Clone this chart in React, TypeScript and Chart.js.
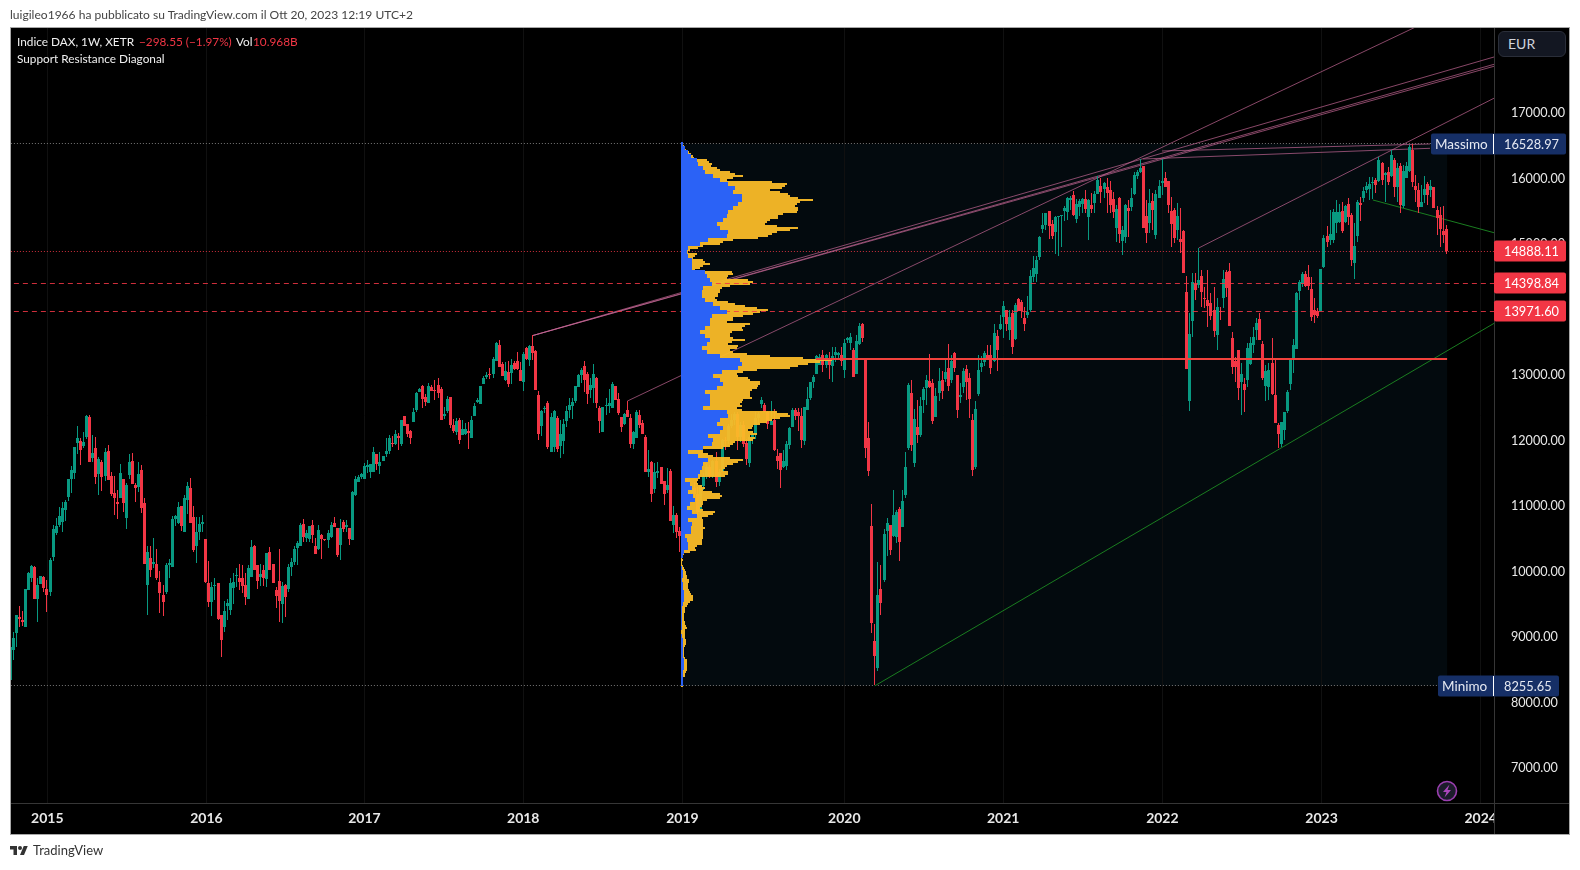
import React, { useEffect, useRef } from "react";
import { Chart, registerables } from "chart.js";

Chart.register(...registerables);

// Weekly candles, each row [open, high, low, close]
const bars2014 = [
[8344,8900,8340,8853],[8802,9082,8649,8980],[9066,9340,8853,9336],[9301,9474,9158,9275],[9260,9397,9168,9235],[9158,9730,9155,9728],[9718,9998,9715,9972],[9896,10100,9845,10084],[10074,10084,9580,9586],[9580,9896,9235,9794],[9810,9935,9805,9932],[9921,9925,9692,9748]];
const bars2015 = [
[9733,9871,9387,9642],[9687,10201,9626,10176],[10227,10705,10161,10649],[10593,10812,10558,10695],[10705,10990,10685,10848],[10761,11067,10608,10965],[10939,11092,10771,11061],[11143,11415,11082,11413],[11408,11611,11194,11550],[11509,11900,11413,11896],[11957,12222,11799,12033],[11993,12033,11626,11855],[11916,12135,11881,11977],[12049,12395,12018,12374],[12354,12390,11670,11677],[11728,12084,11677,11804],[11881,12059,11336,11448],[11489,11743,11168,11718],[11677,11703,11234,11448],[11463,11881,11387,11820],[11840,11932,11390,11397],[11463,11514,11153,11189],[11194,11458,10863,11123],[11061,11245,10802,11031],[11123,11642,11120,11499],[11413,11415,10914,11046],[10822,11346,10649,11321],[11474,11794,11413,11672],[11687,11804,11330,11336],[11316,11346,11061,11280],[11296,11667,11209,11489],[11550,11626,10893,10975],[11046,11128,10115,10120],[9794,10390,9336,10293],[10206,10390,9921,10023],[10115,10512,10049,10140],[10115,10344,9871,9901],[9840,10008,9372,9672],[9642,9794,9321,9540],[9687,10125,9652,10095],[10105,10191,9901,10130],[10074,10848,10070,10802],[10797,10863,10700,10848],[10736,11061,10730,10985],[11000,11005,10619,10700],[10603,11168,10600,11123],[11092,11362,10873,11306],[11275,11428,10735,10741],[10832,11000,10303,10328],[10395,10837,10135,10608],[10608,10827,10481,10725],[10731,10863,10608,10751]];
const bars2016 = [
[10497,10500,9820,9840],[9820,10161,9463,9535],[9535,9835,9321,9764],[9779,9901,9565,9794],[9825,9830,9260,9280],[9331,9335,8695,8955],[9153,9550,9082,9397],[9474,9575,9260,9520],[9413,9896,9336,9825],[9743,9983,9504,9840],[9932,10059,9759,9947],[9901,10115,9718,9845],[9901,10100,9667,9779],[9789,9972,9489,9611],[9580,10100,9575,10054],[9916,10481,9910,10374],[10395,10400,10020,10023],[10100,10105,9733,9855],[9916,10115,9779,9962],[10023,10100,9779,9901],[9881,10290,9769,10288],[10298,10369,10020,10023],[10115,10120,9820,9825],[9718,9769,9443,9626],[9855,10344,9235,9550],[9504,9845,9214,9779],[9794,9810,9306,9611],[9733,10115,9687,10069],[10069,10206,9932,10145],[10145,10390,10100,10344],[10359,10466,10100,10436],[10390,10736,10385,10710],[10726,10802,10446,10527],[10512,10634,10456,10588],[10497,10700,10456,10695],[10710,10787,10430,10552],[10390,10512,10270,10273],[10344,10710,10329,10634],[10558,10573,10191,10497],[10497,10500,10470,10476],[10481,10634,10364,10588],[10527,10761,10507,10710],[10741,10832,10675,10680],[10664,10670,10227,10252],[10405,10802,10176,10659],[10756,10787,10608,10654],[10680,10787,10608,10710],[10659,10665,10405,10497],[10486,11224,10480,11209],[11168,11458,11158,11407],[11367,11474,11360,11448],[11438,11499,11407,11484]];
const bars2017 = [
[11418,11652,11415,11616],[11601,11703,11499,11621],[11519,11645,11433,11642],[11524,11901,11520,11825],[11789,11795,11550,11642],[11616,11830,11494,11672],[11687,11765,11685,11764],[11794,12044,11743,11840],[11840,12084,11789,12039],[11957,12069,11901,11942],[11947,12156,11927,12100],[12064,12120,11860,12044],[11947,12315,11916,12313],[12369,12372,12220,12222],[12252,12255,12049,12100],[12145,12161,11952,12039],[12288,12491,12285,12435],[12466,12746,12435,12731],[12746,12802,12740,12781],[12837,12848,12496,12634],[12664,12710,12527,12588],[12578,12883,12575,12837],[12817,12843,12750,12756],[12776,12924,12619,12751],[12848,12955,12654,12731],[12781,12822,12315,12318],[12374,12507,12329,12405],[12451,12680,12415,12634],[12659,12660,12186,12237],[12232,12334,12110,12145],[12130,12339,12084,12293],[12313,12339,11947,12008],[12089,12313,12084,12176],[12100,12262,12084,12176],[12140,12288,11871,12120],[12039,12369,12035,12313],[12374,12568,12370,12527],[12593,12644,12568,12614],[12563,12835,12560,12832],[12863,12985,12858,12949],[12975,13051,12934,13000],[13016,13102,12934,12995],[13010,13270,12949,13239],[13219,13509,13215,13489],[13458,13535,13125,13128],[13163,13204,12985,12990],[12929,13204,12914,13061],[13051,13219,12822,12858],[13036,13240,12858,13153],[13189,13214,13077,13087],[13209,13346,13077,13087],[13077,13204,12904,12909]];
const bars2018 = [
[12893,13346,12756,13326],[13413,13433,13235,13239],[13229,13458,13143,13443],[13443,13606,13229,13336],[13372,13375,12770,12771],[12695,12756,12008,12100],[12222,12460,12074,12456],[12476,12527,12415,12502],[12573,12603,11871,11896],[11830,12415,11825,12359],[11906,12466,11830,12451],[12349,12374,11820,11871],[11916,12313,11738,12100],[11993,12329,11794,12257],[12298,12527,12212,12451],[12466,12644,12339,12537],[12527,12644,12323,12588],[12598,12835,12568,12832],[12817,13016,12815,13000],[13000,13102,12873,13077],[13138,13209,12746,12924],[13021,13051,12563,12715],[12766,12949,12644,12843],[12797,13168,12568,13016],[12960,12965,12491,12573],[12496,12527,12115,12298],[12130,12517,12125,12507],[12527,12644,12390,12547],[12527,12781,12415,12578],[12496,12888,12490,12863],[12832,12835,12615,12619],[12629,12731,12390,12425],[12359,12362,12135,12212],[12257,12415,12237,12405],[12466,12608,12355,12359],[12344,12400,11881,11947],[11947,12140,11865,12135],[12039,12466,12035,12430],[12390,12466,12186,12237],[12267,12313,12100,12105],[12054,12084,11520,11524],[11519,11855,11448,11565],[11677,11680,11066,11184],[11260,11652,11204,11514],[11509,11677,11423,11535],[11596,11600,11340,11341],[11377,11380,11016,11184],[11245,11575,11194,11321],[11535,11565,10775,10776],[10715,11000,10593,10858],[10863,10899,10517,10608],[10624,10685,10293,10542]];
const bars2019 = [
[10542,10800,10386,10767],[10767,10945,10720,10887],[10887,11220,10780,11205],[11205,11320,11100,11281],[11281,11370,11100,11181],[11181,11290,10865,10906],[10906,11320,10900,11299],[11299,11500,11240,11457],[11457,11640,11410,11601],[11601,11620,11420,11457],[11457,11700,11420,11685],[11685,11820,11290,11364],[11364,11560,11300,11526],[11526,12030,11520,12009],[12009,12050,11860,11999],[11999,12250,11950,12222],[12222,12400,12190,12315],[12315,12440,12230,12412],[12412,12430,11850,12059],[12059,12290,11980,12238],[12238,12300,11900,11947],[11956,12030,11630,11717],[11651,12080,11600,12058],[12058,12150,11950,12096],[12096,12440,12020,12339],[12339,12440,12250,12398],[12557,12659,12501,12618],[12542,12577,12435,12440],[12440,12445,12175,12252],[12236,12603,12230,12297],[12312,12481,11839,11855],[11763,11865,11565,11687],[11804,11810,11280,11549],[11595,11855,11585,11687],[11610,11997,11549,11941],[11931,12211,11870,12196],[12201,12491,12200,12465],[12465,12491,12313,12374],[12435,12491,12150,12374],[12374,12491,11890,12007],[11992,12515,11931,12511],[12465,12811,12460,12633],[12648,12890,12618,12888],[12893,13000,12801,12969],[13015,13305,13010,13290],[13152,13320,13150,13280],[13305,13381,13045,13152],[13152,13320,13100,13305],[13229,13356,12939,13152],[13137,13422,12893,13290],[13305,13432,13203,13351],[13300,13356,13229,13330],[13305,13432,13137,13218]];
const bars2020 = [
[13076,13549,12954,13488],[13534,13575,13483,13565],[13488,13641,13381,13580],[13381,13412,12970,12974],[13015,13610,13010,13519],[13473,13788,13458,13748],[13778,13794,13503,13565],[13229,13235,11733,11885],[12038,12282,11458,11534],[10694,11030,9061,9213],[8939,9198,8262,8710],[8526,10145,8481,9641],[9733,10099,9336,9519],[9870,10649,9839,10572],[10623,10816,10236,10740],[10705,10710,10252,10328],[10542,11244,10531,10862],[10531,10939,10440,10908],[10954,10984,10160,10450],[10679,11244,10675,11076],[11168,11824,11122,11595],[11885,12872,11855,12847],[12725,12923,11839,11931],[11656,12481,11595,12328],[12206,12618,11961,12084],[12084,12664,12053,12526],[12618,12822,12420,12786],[12801,13000,12542,12923],[12908,13320,12796,12822],[12878,12939,12252,12297],[12358,12801,12355,12679],[12730,13107,12603,12908],[12923,13061,12633,12755],[12933,13229,12898,13045],[13107,13473,12755,12832],[12923,13305,12872,13213],[13336,13351,13045,13107],[13000,13005,12343,12465],[12664,12878,12567,12694],[12816,13107,12725,13061],[13091,13152,12618,12893],[12954,13030,12343,12633],[12313,12404,11458,11549],[11595,12603,11565,12481],[12710,13305,12679,13076],[13122,13290,13045,13183],[13198,13366,13137,13336],[13305,13458,13225,13229],[13305,13458,13015,13112],[13213,13773,13203,13641],[13600,13687,13066,13381],[13702,13916,13687,13778]];
const bars2021 = [
[13885,14129,13559,14053],[13992,13995,13671,13778],[13687,13992,13534,13885],[13946,13992,13320,13427],[13549,14094,13534,14068],[14160,14180,13980,13982],[14114,14145,13865,13977],[13870,14043,13671,13778],[13916,14206,13875,13967],[13992,14603,13967,14511],[14501,14816,14425,14633],[14547,14816,14425,14760],[14801,15122,14755,15106],[15229,15468,15173,15290],[15290,15475,15213,15473],[15503,15505,15076,15274],[15305,15366,15076,15122],[15183,15427,14847,15412],[15412,15430,14816,15427],[15427,15445,14959,15442],[15503,15580,15351,15549],[15488,15722,15366,15702],[15671,15732,15519,15702],[15748,15809,15427,15442],[15381,15687,15315,15610],[15564,15687,15427,15656],[15610,15707,15468,15687],[15687,15824,15468,15534],[15412,15687,15061,15671],[15600,15773,15468,15534],[15625,15809,15468,15763],[15763,16038,15758,15977],[15885,16002,15620,15793],[15839,15951,15697,15931],[15870,16002,15468,15778],[15824,15961,15468,15600],[15687,15799,15391,15488],[15244,15595,15025,15534],[15702,15722,15010,15152],[15045,15274,14832,15213],[15106,15610,15010,15595],[15549,15671,15112,15498],[15564,15849,15503,15702],[15763,16104,15748,16053],[16038,16129,15987,16099],[16094,16292,16078,16160],[16190,16195,15240,15244],[15427,15671,15010,15167],[15320,15834,15162,15625],[15656,15773,15213,15519],[15137,15824,15071,15763],[15702,15977,15700,15885]];
const bars2022 = [
[15931,16292,15748,15961],[16007,16104,15865,15870],[15961,15965,15468,15595],[15503,15722,14959,15305],[15519,15544,15010,15091],[15213,15620,15061,15427],[15076,15544,14857,15030],[15198,15213,14555,14557],[14267,14511,13088,13091],[12603,13941,12450,13625],[13824,14552,13575,14414],[14389,14552,14145,14297],[14374,14933,14323,14450],[14511,14603,14043,14267],[14170,14348,14017,14155],[14140,14603,13738,14053],[14104,14246,13839,13900],[13992,14348,13585,13671],[13610,14170,13381,14038],[13977,14043,13839,13961],[14175,14603,14017,14465],[14572,14603,14195,14328],[14587,14704,13745,13748],[13564,13656,13015,13122],[13213,13279,12898,13117],[13381,13385,12618,12801],[12893,13178,12389,13020],[12862,12949,12440,12771],[12923,13483,12821,13412],[13168,13585,13152,13488],[13458,13738,13330,13580],[13687,13865,13534,13793],[13855,13941,13530,13534],[13473,13524,12923,12954],[12832,13152,12608,13061],[12816,13178,12618,13076],[13183,13559,12694,12710],[12694,13229,12262,12267],[12236,12262,11880,12099],[11946,12285,11905,12282],[12160,12440,12007,12435],[12450,12771,12414,12740],[12862,13232,12771,13229],[13244,13544,13025,13458],[13397,14272,13395,14246],[14282,14450,14145,14419],[14389,14577,14348,14542],[14542,14592,14348,14358],[14496,14679,14297,14358],[14313,14501,13829,13885],[13992,14170,13799,13916],[13977,14017,13865,13905]];
const bars2023 = [
[13977,14620,13975,14618],[14648,15137,14628,15091],[15122,15274,14959,15035],[15061,15519,14984,15152],[15061,15529,15010,15488],[15320,15671,15162,15488],[15335,15610,15315,15488],[15503,15646,15162,15198],[15335,15595,15315,15580],[15610,15707,15290,15412],[15442,15468,14669,14755],[14709,15315,14465,14969],[15122,15671,15030,15641],[15625,15722,15356,15595],[15702,15875,15646,15814],[15824,15951,15773,15885],[15839,16028,15671,15916],[15936,16028,15681,15951],[15977,16002,15773,15900],[15961,16333,15951,16282],[16241,16257,15900,15977],[16053,16104,15646,16078],[16099,16180,15900,15946],[16038,16435,16028,16358],[16282,16307,15722,15870],[15865,16231,15646,16160],[16190,16231,15468,15595],[15580,16206,15544,16114],[16012,16257,16002,16190],[16114,16511,16104,16480],[16440,16529,15875,15946],[15885,16053,15646,15824],[15824,15926,15478,15564],[15570,15900,15559,15641],[15748,16038,15620,15834],[15916,15951,15595,15748],[15824,15977,15722,15885],[15870,15875,15544,15549],[15519,15580,15137,15397],[15442,15570,14959,15223],[15198,15580,15010,15132],[15229,15290,14847,14888]];

const candles = [...bars2014, ...bars2015, ...bars2016, ...bars2017, ...bars2018, ...bars2019, ...bars2020, ...bars2021, ...bars2022, ...bars2023];

// Volume profile, rows from the top of the range to the bottom
const profileUpVolume = [7,12,22,29,47,52,67,72,97,117,142,162,157,182,182,172,157,142,137,127,107,117,142,137,82,57,22,19,22,32,32,32,72,77,87,92,67,62,62,72,97,117,137,92,87,87,72,57,72,87,77,62,77,117,177,182,172,122,97,117,127,107,72,87,87,87,67,137,142,117,107,127,117,82,97,92,67,22,52,82,67,62,57,52,12,27,32,22,37,42,27,17,32,47,22,32,29,29,12,17,22,22,9,5,0,1,3,5,5,4,5,7,9,9,9,7,3,3,3,3,3,3,0,3,5,5,5,5,5,9,9,9,7,5,5,5];
const profileTotalVolume = [
7,9,12,15,25,29,35,39,79,85,92,89,107,117,147,162,185,157,137,272,
317,312,302,267,297,322,327,352,397,357,347,342,352,350,347,307,292,292,267,257,
252,287,352,327,287,272,262,232,157,127,117,67,52,27,22,47,42,37,67,72,
87,67,57,42,152,157,142,137,202,215,207,147,122,117,117,112,112,102,107,142,
162,192,227,262,237,217,187,157,157,137,207,192,182,187,152,147,147,157,192,152,
142,172,167,147,157,197,267,367,452,417,382,352,327,227,187,167,172,202,207,237,
237,232,227,212,207,207,207,212,187,182,177,182,167,182,287,322,327,297,272,257,
237,217,212,
202,217,227,207,222,217,162,157,147,127,67,67,82,97,147,187,172,157,137,132,
127,142,142,132,57,52,47,52,62,72,67,92,117,122,117,77,67,67,62,57,
67,102,97,82,62,67,67,67,67,72,67,67,67,67,67,62,62,62,47,42,45,27,9,7,3,5,
4,3,7,9,11,15,15,17,19,24,23,21,20,21,23,27,31,35,36,35,27,22,17,11,11,11,10,9,9,9,
11,13,15,17,13,12,11,12,13,15,15,15,13,9,9,9,9,9,13,17,18,19,19,19,17,15,13,11,7,5,5,5,5];

const profileHigh = 16528.97;
const profileLow = 8255.65;
const profileStartWeek = 219.5;
const profileEndWeek = 470.3;
const pocPrice = 13244;

const yearLabels = ["2015", "2016", "2017", "2018", "2019", "2020", "2021", "2022", "2023", "2024"];
const yearWeeks = [12.1, 64.2, 115.9, 167.9, 220, 273, 325, 377.1, 429.2, 481.3];
const priceTicks = [7000, 8000, 9000, 10000, 11000, 12000, 13000, 14000, 15000, 16000, 17000];

const lastPrice = 14888.11;
const dashedLevels = [14398.84, 13971.6];

// [startWeek, startPrice, endWeek, endPrice]
const pinkTrendlines = [
  [171, 13602, 486, 17860],
  [171, 13602, 486, 17748],
  [171, 13602, 486, 17718],
  [202, 12603, 460, 18313],
  [389, 14939, 486, 17234],
  [377, 16420, 464.7, 16527],
  [370.8, 16298, 464.7, 16461],
];
const greenTrendlines = [
  [283, 8255, 486, 13798],
  [446, 15672, 486, 15168],
];

const GREEN = "#089981";
const RED = "#F23645";
const FONT = 'Lato, "Noto Sans", sans-serif';
const W_MIN = 0.23;
const W_MAX = 485.65;

const upRowStep = (profileHigh - profileLow) / 135.5;
const totalRowStep = (profileHigh - profileLow) / 271;

const seg = (t: number[], color: string, order: number) => ({
  type: "line",
  data: [{ x: t[0], y: t[1] }, { x: t[2], y: t[3] }],
  borderColor: color,
  borderWidth: 1,
  pointRadius: 0,
  order,
  xAxisID: "x",
  yAxisID: "y",
});

const level = (y: number, color: string, dash: number[], order: number) => ({
  type: "line",
  data: [{ x: W_MIN - 2, y }, { x: W_MAX + 2, y }],
  borderColor: color,
  borderWidth: 1,
  borderDash: dash,
  pointRadius: 0,
  order,
  snap: true,
  xAxisID: "x",
  yAxisID: "y",
});

const crispPlugin = {
  id: "crisp",
  afterDatasetsUpdate(chart: any) {
    chart.data.datasets.forEach((ds: any, i: number) => {
      const meta = chart.getDatasetMeta(i);
      if (ds.crisp === "v") {
        meta.data.forEach((el: any) => {
          el.x = Math.floor(el.x) + 0.5;
          const a = Math.round(el.y);
          let b = Math.round(el.base);
          if (a === b) b = a + 1;
          el.y = a;
          el.base = b;
        });
      } else if (ds.crisp === "h") {
        meta.data.forEach((el: any) => {
          el.y = Math.round(el.y);
          el.x = Math.round(el.x);
          el.base = Math.round(el.base);
        });
      } else if (ds.snap) {
        meta.data.forEach((el: any) => {
          el.y = Math.floor(el.y) + 0.5;
        });
      }
    });
  },
};

const backdropPlugin = {
  id: "backdrop",
  beforeDraw(chart: any) {
    const { ctx, scales } = chart;
    ctx.save();
    ctx.fillStyle = "#000";
    ctx.fillRect(10, 27, 1560, 808);
    const x0 = scales.x.getPixelForValue(profileStartWeek);
    const x1 = scales.x.getPixelForValue(profileEndWeek);
    const y0 = scales.y.getPixelForValue(profileHigh);
    const y1 = scales.y.getPixelForValue(profileLow);
    ctx.fillStyle = "#030a0e";
    ctx.fillRect(x0, y0, x1 - x0, y1 - y0);
    ctx.restore();
  },
};

function tag(ctx: any, y: number, x0: number, x1: number, color: string, text: string, textX: number, textColor: string) {
  ctx.fillStyle = color;
  ctx.beginPath();
  ctx.roundRect(x0, y - 10.5, x1 - x0, 21, 2);
  ctx.fill();
  ctx.fillStyle = textColor;
  ctx.textAlign = "left";
  ctx.textBaseline = "middle";
  ctx.fillText(text, textX, y + 1);
}

const overlayPlugin = {
  id: "overlay",
  afterDraw(chart: any) {
    const { ctx, scales } = chart;
    const yOf = (v: number) => Math.round(scales.y.getPixelForValue(v));
    ctx.save();
    ctx.fillStyle = "#000";
    ctx.fillRect(1495, 804, 74, 30);
    ctx.fillStyle = "#363636";
    ctx.fillRect(11, 803, 1558, 1);
    ctx.fillRect(1494, 28, 1, 806);
    ctx.strokeStyle = "#a8a8a8";
    ctx.lineWidth = 1;
    ctx.strokeRect(10.5, 27.5, 1559, 807);

    ctx.font = `12.8px ${FONT}`;
    const navy = "#162f66";
    tag(ctx, yOf(profileHigh), 1431, 1566, navy, "16528.97", 1504, "#e6e9f2");
    ctx.fillStyle = "#e6e9f2";
    ctx.font = `13.5px ${FONT}`;
    ctx.fillText("Massimo", 1435, yOf(profileHigh) + 1);
    ctx.fillStyle = "#ffffff";
    ctx.fillRect(1493, yOf(profileHigh) - 10, 1, 20);

    ctx.font = `12.8px ${FONT}`;
    tag(ctx, yOf(profileLow), 1438, 1559, navy, "8255.65", 1504, "#e6e9f2");
    ctx.fillStyle = "#e6e9f2";
    ctx.font = `13.5px ${FONT}`;
    ctx.fillText("Minimo", 1442, yOf(profileLow) + 1);
    ctx.fillStyle = "#ffffff";
    ctx.fillRect(1493, yOf(profileLow) - 10, 1, 20);

    ctx.font = `12.8px ${FONT}`;
    tag(ctx, yOf(lastPrice), 1494, 1566, RED, lastPrice.toFixed(2), 1504, "#ffffff");
    dashedLevels.forEach((v) => tag(ctx, yOf(v), 1494, 1566, RED, v.toFixed(2), 1504, "#ffffff"));

    ctx.beginPath();
    ctx.arc(1447, 791, 9.5, 0, Math.PI * 2);
    ctx.fillStyle = "#1c1c2b";
    ctx.fill();
    ctx.strokeStyle = "#9b3fb0";
    ctx.lineWidth = 1.6;
    ctx.stroke();
    ctx.fillStyle = "#ab47bc";
    ctx.beginPath();
    ctx.moveTo(1449.5, 784.5);
    ctx.lineTo(1443, 792);
    ctx.lineTo(1446.5, 792);
    ctx.lineTo(1444.5, 797.5);
    ctx.lineTo(1451, 790);
    ctx.lineTo(1447.5, 790);
    ctx.closePath();
    ctx.fill();
    ctx.restore();
  },
};

export default function App() {
  const ref = useRef<HTMLCanvasElement | null>(null);

  useEffect(() => {
    document.body.style.margin = "0";
    const wickData = candles.map((c, i) => ({ x: i, y: [c[2], c[1]] }));
    const bodyData = candles.map((c, i) => ({ x: i, y: [c[0], c[3]] }));
    const colors = candles.map((c) => (c[3] >= c[0] ? GREEN : RED));
    const pink = "rgba(200,104,152,0.68)";

    const barBase = { type: "bar", grouped: false, borderWidth: 0, inflateAmount: 0, borderSkipped: false };
    const chart = new Chart(ref.current as HTMLCanvasElement, {
      type: "bar",
      data: {
        datasets: [
          ...pinkTrendlines.map((t) => seg(t, pink, 6)),
          ...greenTrendlines.map((t) => seg(t, "#1a7d20", 6)),
          level(profileHigh, "#777777", [1, 2], 7),
          level(profileLow, "#777777", [1, 2], 7),
          level(lastPrice, "rgba(242,54,69,0.85)", [1, 2], 7),
          ...dashedLevels.map((v) => level(v, "rgba(242,54,69,0.85)", [5, 4], 2)),
          {
            ...barBase,
            label: "wick",
            data: wickData,
            backgroundColor: colors,
            barThickness: 1,
            crisp: "v",
            order: 5,
            xAxisID: "x",
            yAxisID: "y",
          },
          {
            ...barBase,
            label: "body",
            data: bodyData,
            backgroundColor: colors,
            barThickness: 3,
            crisp: "v",
            order: 4,
            xAxisID: "x",
            yAxisID: "y",
          },
          {
            ...barBase,
            label: "profile total",
            indexAxis: "y",
            data: profileTotalVolume.map((v, r) => ({ y: profileHigh - totalRowStep * r, x: [0, Math.max(v, 1)] })),
            backgroundColor: "rgba(250,188,40,0.95)",
            barThickness: 2,
            crisp: "h",
            order: 3,
            xAxisID: "xVol",
            yAxisID: "y",
          },
          {
            ...barBase,
            label: "profile up",
            indexAxis: "y",
            data: profileUpVolume.map((v, r) => ({ y: profileHigh - upRowStep * r, x: [0, v] })),
            backgroundColor: "#2b62f6",
            barThickness: 4,
            crisp: "h",
            order: 1,
            xAxisID: "xVol",
            yAxisID: "y",
          },
          {
            type: "line",
            label: "poc",
            data: [{ x: 263.7, y: pocPrice }, { x: profileEndWeek, y: pocPrice }],
            borderColor: "#f2423c",
            borderWidth: 2,
            pointRadius: 0,
            order: 0,
            xAxisID: "x",
            yAxisID: "y",
          },
        ],
      } as any,
      options: {
        animation: false,
        responsive: false,
        devicePixelRatio: 1,
        layout: { padding: { left: 11, top: 28, right: 11, bottom: 36 } },
        plugins: { legend: { display: false }, tooltip: { enabled: false } },
        events: [],
        scales: {
          x: {
            type: "linear",
            position: "bottom",
            min: W_MIN,
            max: W_MAX,
            offset: false,
            grid: { offset: false, color: "#101010", drawTicks: false, lineWidth: 1 },
            border: { display: false },
            afterBuildTicks: (s: any) => {
              s.ticks = yearWeeks.map((value) => ({ value }));
            },
            afterFit: (s: any) => {
              s.height = 31;
            },
            ticks: {
              autoSkip: false,
              maxRotation: 0,
              padding: 7,
              color: "#e8e8e8",
              font: { family: FONT, size: 14, weight: "bold" },
              callback: (v: any) => {
                const idx = yearWeeks.indexOf(v);
                return idx >= 0 ? yearLabels[idx] : "";
              },
            },
          },
          xVol: {
            type: "linear",
            display: false,
            position: "bottom",
            offset: false,
            grid: { offset: false },
            min: -2010,
            max: 2439,
          },
          y: {
            type: "linear",
            position: "right",
            min: 6465.6,
            max: 18297.7,
            offset: false,
            grid: { display: false, offset: false },
            border: { display: false },
            afterBuildTicks: (s: any) => {
              s.ticks = priceTicks.map((value) => ({ value }));
            },
            afterFit: (s: any) => {
              s.width = 75;
            },
            ticks: {
              autoSkip: false,
              padding: 9,
              color: "#e8e8e8",
              font: { family: FONT, size: 12.6 },
              callback: (v: any) => Number(v).toFixed(2),
            },
          },
        },
      } as any,
      plugins: [crispPlugin, backdropPlugin, overlayPlugin],
    } as any);
    return () => chart.destroy();
  }, []);

  const text: React.CSSProperties = { position: "absolute", whiteSpace: "nowrap", fontFamily: FONT, fontSize: 11.8, lineHeight: "16px" };
  return (
    <div style={{ position: "absolute", left: 0, top: 0, width: 1580, height: 870, background: "#fff", overflow: "hidden" }}>
      <canvas ref={ref} width={1580} height={870} style={{ position: "absolute", left: 0, top: 0, width: 1580, height: 870 }} />
      <div style={{ ...text, left: 10, top: 7, color: "#444", fontSize: 12.05 }}>luigileo1966 ha pubblicato su TradingView.com il Ott 20, 2023 12:19 UTC+2</div>
      <div style={{ ...text, left: 17, top: 34, color: "#f0f0f0" }}>Indice DAX, 1W, XETR</div>
      <div style={{ ...text, left: 139, top: 34, color: RED }}>−298.55 (−1.97%)</div>
      <div style={{ ...text, left: 236, top: 34, color: "#f0f0f0" }}>Vol</div>
      <div style={{ ...text, left: 253, top: 34, color: RED }}>10.968B</div>
      <div style={{ ...text, left: 17, top: 51, color: "#f0f0f0" }}>Support Resistance Diagonal</div>
      <div style={{ position: "absolute", left: 1498, top: 31, width: 66, height: 24, border: "1px solid #2a2e39", borderRadius: 6, background: "#131722", color: "#d1d4dc", fontFamily: FONT, fontSize: 14, lineHeight: "24px", textIndent: 9 }}>EUR</div>
      <svg style={{ position: "absolute", left: 10, top: 844 }} width="18" height="12" viewBox="0 0 36 24">
        <path d="M14 22H7V11H0V4h14v18zM28 22h-8l7.5-18h8L28 22z" fill="#333" />
        <circle cx="20" cy="8" r="4" fill="#333" />
      </svg>
      <div style={{ ...text, left: 33, top: 842, color: "#333", fontSize: 13 }}>TradingView</div>
    </div>
  );
}
